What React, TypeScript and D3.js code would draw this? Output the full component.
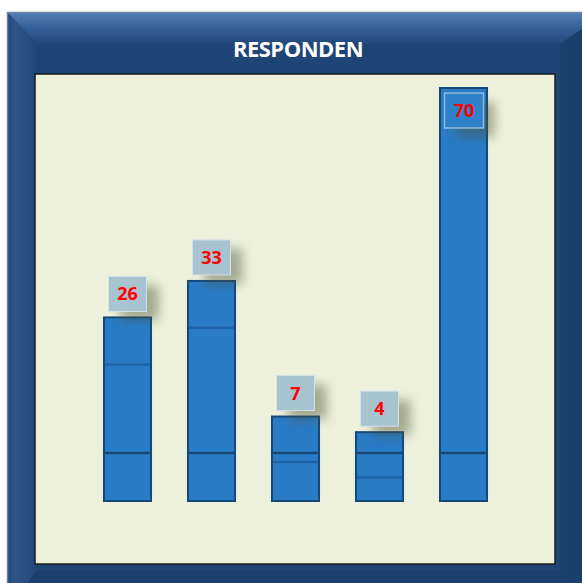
import React from "react";
import * as d3 from "d3";

const categories = ["A", "B", "C", "D", "E"];
const values = [26, 33, 7, 4, 70];
const innerLines = [17, 24, -1.7, -4.7, null];
const title = "RESPONDEN";

const W = 582, H = 583;
const panel = { x: 35, y: 74, w: 520, h: 490 };

export default function App() {
  const x = d3.scaleBand<string>().domain(categories).range([85.5, 505.5]).paddingInner(0.44).paddingOuter(0.22);
  const y = d3.scaleLinear().domain([-9.2, 70]).range([501, 88]);
  const bw = x.bandwidth();
  const boxW = 38, boxH = 35;
  return (
    <svg width={W} height={H} style={{ position: "absolute", left: 0, top: 0 }}>
      <defs>
        <linearGradient id="topBev" x1="0" y1="0" x2="0" y2="1">
          <stop offset="0" stopColor="#5382b6" />
          <stop offset="0.5" stopColor="#34609a" />
          <stop offset="1" stopColor="#214879" />
        </linearGradient>
        <linearGradient id="leftBev" x1="0" y1="0" x2="1" y2="0">
          <stop offset="0" stopColor="#24497a" />
          <stop offset="0.25" stopColor="#2d5587" />
          <stop offset="1" stopColor="#214779" />
        </linearGradient>
        <linearGradient id="rightBev" x1="0" y1="0" x2="1" y2="0">
          <stop offset="0" stopColor="#1b416f" />
          <stop offset="1" stopColor="#16395f" />
        </linearGradient>
        <filter id="shadow" x="-60%" y="-60%" width="220%" height="220%">
          <feGaussianBlur stdDeviation="5.5" />
        </filter>
      </defs>
      {/* frame */}
      <rect x={7} y={12} width={600} height={600} fill="#1f4577" />
      <polygon points="7,12 607,12 560,44 37,44" fill="url(#topBev)" />
      <polygon points="7,12 37,44 37,570 7,612" fill="url(#leftBev)" />
      <polygon points="560,44 607,12 607,612 560,570" fill="url(#rightBev)" />
      <polygon points="37,570 560,570 607,612 7,612" fill="#1c3f6d" />
      <rect x={37} y={44} width={523} height={526} fill="#1f4577" />
      <line x1={7} y1={12.5} x2={582} y2={12.5} stroke="#6f84a2" strokeWidth={1.5} />
      <line x1={7.5} y1={12} x2={7.5} y2={583} stroke="#6f84a2" strokeWidth={1.5} />
      <text x={298} y={57} textAnchor="middle" fill="#ffffff" fontFamily="'Open Sans', Lato, sans-serif" fontWeight="bold" fontSize={22} letterSpacing={-0.5}>{title}</text>
      {/* panel */}
      <rect x={panel.x} y={panel.y} width={panel.w} height={panel.h} fill="#edf1dc" stroke="#1a1a1a" strokeWidth={1.5} />
      {/* bars */}
      {values.map((v, i) => {
        const bx = x(categories[i])!;
        const top = y(v);
        const il = innerLines[i];
        return (
          <g key={i}>
            <rect x={bx} y={top} width={bw} height={y(-9.2) - top} fill="#2a7bc6" stroke="#17487a" strokeWidth={2} />
            {il !== null && (
              <line x1={bx + 1} x2={bx + bw - 1} y1={y(il)} y2={y(il)} stroke="#1f63a8" strokeWidth={2.5} />
            )}
            <line x1={bx} x2={bx + bw} y1={y(0)} y2={y(0)} stroke="#17487a" strokeWidth={2.5} />
          </g>
        );
      })}
      {values.map((v, i) => {
        const bx = x(categories[i])!;
        const top = y(v);
        const inside = top - 6 - boxH < panel.y + 10;
        const boxY = inside ? top + 5 : top - 6 - boxH;
        const boxX = bx + bw / 2 - boxW / 2;
        return (
          <g key={"l" + i}>
            <rect x={boxX + 12} y={boxY + 9} width={boxW} height={boxH} fill="#4a4f33" opacity={0.45} filter="url(#shadow)" />
            {inside ? (
              <rect x={boxX} y={boxY} width={boxW + 1} height={boxH} fill="#2e82c9" stroke="#8fb9e0" strokeWidth={1.5} />
            ) : (
              <rect x={boxX} y={boxY} width={boxW} height={boxH} fill="#a7c3cf" stroke="#d3e2e6" strokeWidth={1} />
            )}
            <text x={boxX + boxW / 2 + (inside ? 0.5 : 0)} y={boxY + boxH / 2 + 6.5} textAnchor="middle" fill="#ff0000" fontFamily="'Open Sans', Lato, sans-serif" fontWeight="bold" fontSize={18}>{v}</text>
          </g>
        );
      })}
    </svg>
  );
}
